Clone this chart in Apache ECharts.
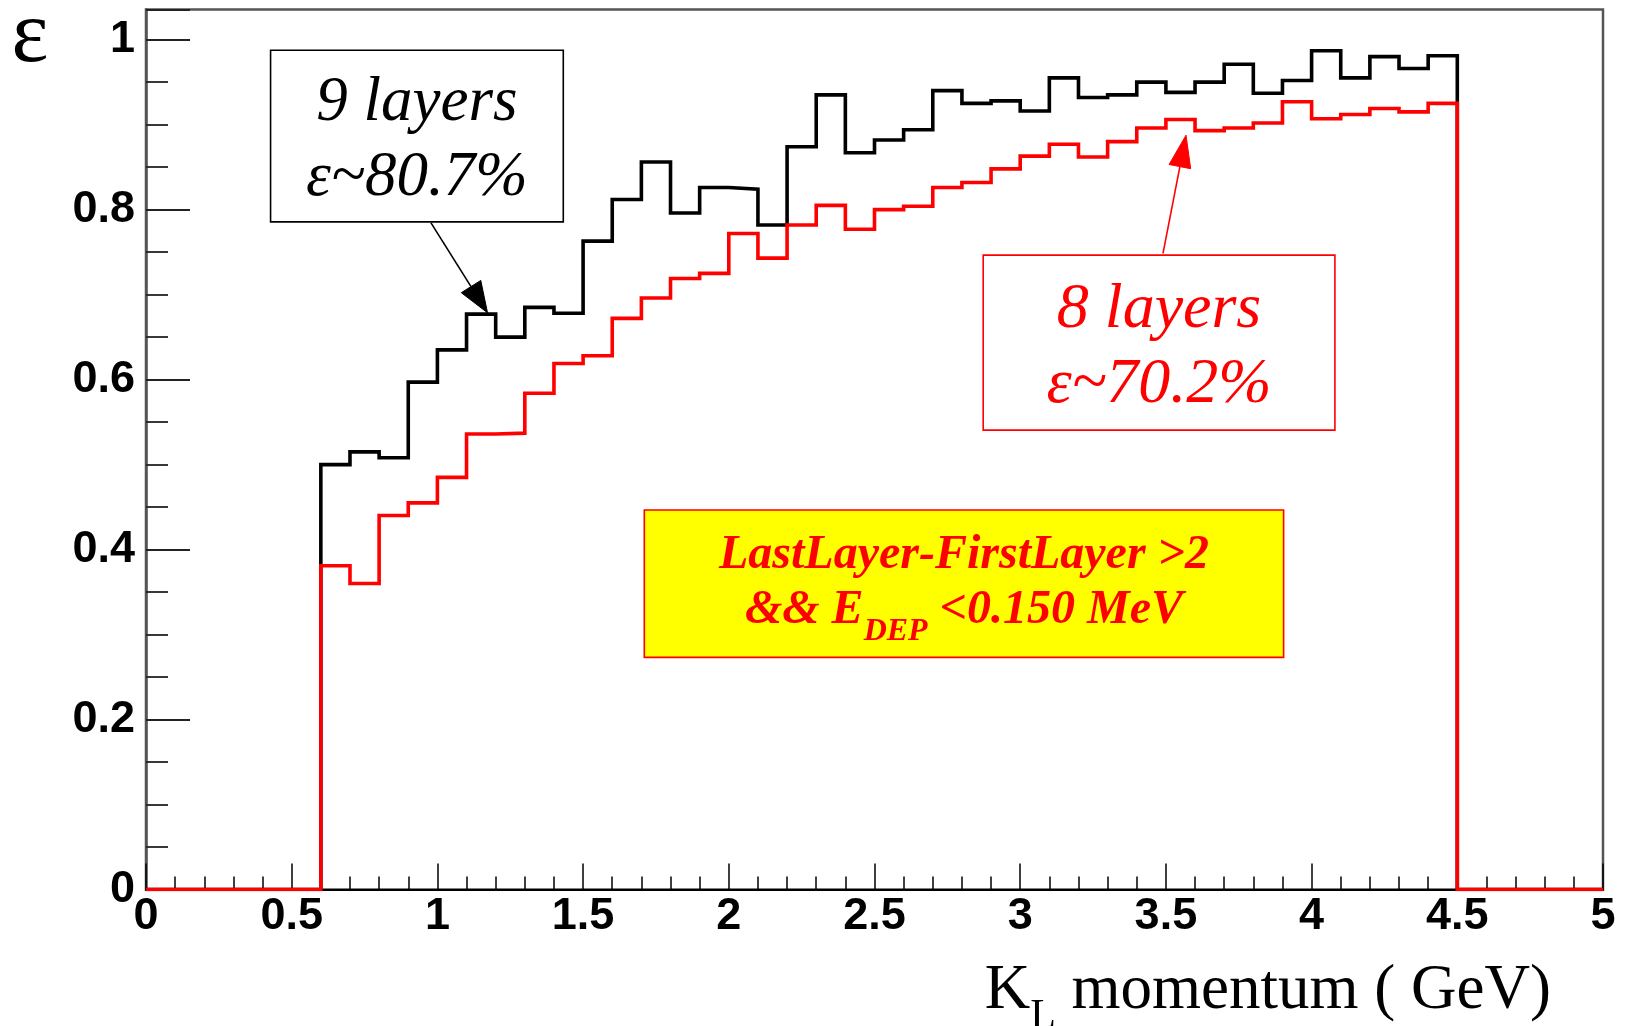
<!DOCTYPE html>
<html>
<head>
<meta charset="utf-8">
<script src="https://cdn.jsdelivr.net/npm/echarts@6/dist/echarts.min.js"></script>
<style>
html,body{margin:0;padding:0;background:#ffffff;}
#chart{width:1625px;height:1026px;}
</style>
</head>
<body>
<div id="chart"></div>
<script>
// ---- data ----
const BIN_EDGES = [0, 0.1, 0.2, 0.3, 0.4, 0.5, 0.6, 0.7, 0.8, 0.9, 1.0, 1.1, 1.2, 1.3, 1.4, 1.5, 1.6, 1.7, 1.8, 1.9,
  2.0, 2.1, 2.2, 2.3, 2.4, 2.5, 2.6, 2.7, 2.8, 2.9, 3.0, 3.1, 3.2, 3.3, 3.4, 3.5, 3.6, 3.7, 3.8, 3.9,
  4.0, 4.1, 4.2, 4.3, 4.4, 4.5, 4.6, 4.7, 4.8, 4.9, 5.0];

const NINE_LAYERS = [0, 0, 0, 0, 0, 0,
  0.500, 0.515, 0.508, 0.597, 0.635, 0.677, 0.650, 0.685, 0.678, 0.763,
  0.812, 0.856, 0.796, 0.826, 0.824, 0.782, 0.874, 0.935, 0.867, 0.882,
  0.894, 0.940, 0.925, 0.928, 0.916, 0.955, 0.932, 0.935, 0.950, 0.938,
  0.950, 0.971, 0.937, 0.952, 0.987, 0.955, 0.980, 0.966, 0.981,
  0, 0, 0, 0, 0];

const EIGHT_LAYERS = [0, 0, 0, 0, 0, 0,
  0.381, 0.360, 0.440, 0.455, 0.485, 0.536, 0.537, 0.584, 0.619, 0.628,
  0.672, 0.696, 0.719, 0.725, 0.772, 0.743, 0.782, 0.805, 0.777, 0.800,
  0.804, 0.826, 0.832, 0.848, 0.863, 0.877, 0.862, 0.880, 0.896, 0.906,
  0.893, 0.896, 0.902, 0.927, 0.907, 0.912, 0.919, 0.915, 0.925,
  0, 0, 0, 0, 0];

const X_RANGE = [0, 5];
const Y_RANGE = [0, 1.0355];

const BOX_NINE_TEXT = ['9 layers', 'ε~80.7%'];
const BOX_EIGHT_TEXT = ['8 layers', 'ε~70.2%'];
const CUT_LINE1 = 'LastLayer-FirstLayer >2';
const CUT_LINE2 = ['&& E', 'DEP', ' <0.150 MeV'];
const X_TITLE = ['K', 'L', ' momentum ( GeV)'];
const Y_TITLE = 'ε';

// ---- build histogram outlines ----
function steps(vals) {
  const pts = [];
  for (let i = 0; i < vals.length; i++) {
    pts.push([BIN_EDGES[i], vals[i]]);
    pts.push([BIN_EDGES[i + 1], vals[i]]);
  }
  return pts;
}

const chart = echarts.init(document.getElementById('chart'), null, {renderer: 'canvas'});

const labelFont = {fontFamily: '"Liberation Sans", Arial, sans-serif', fontWeight: 'bold', fontSize: 45, color: '#000'};

const option = {
  animation: false,
  backgroundColor: '#ffffff',
  grid: {left: 146, right: 22, top: 9.5, bottom: 136.5, show: true, borderColor: '#555', borderWidth: 2.5, backgroundColor: 'transparent'},
  xAxis: {
    type: 'value', min: X_RANGE[0], max: X_RANGE[1], interval: 0.5,
    axisLine: {show: true, onZero: false, lineStyle: {color: '#000', width: 2}},
    axisTick: {show: true, inside: true, length: 26, lineStyle: {color: '#000', width: 1.5}},
    minorTick: {show: true, splitNumber: 5, length: 13, lineStyle: {color: '#000', width: 1.5}},
    splitLine: {show: false},
    axisLabel: Object.assign({margin: 5, showMinLabel: true, showMaxLabel: true}, labelFont)
  },
  yAxis: {
    type: 'value', min: Y_RANGE[0], max: Y_RANGE[1], interval: 0.2,
    axisLine: {show: true, onZero: false, lineStyle: {color: '#555', width: 2.5}},
    axisTick: {show: true, inside: true, length: 44, lineStyle: {color: '#222', width: 1.8}},
    minorTick: {show: true, splitNumber: 4, length: 22, lineStyle: {color: '#222', width: 1.8}},
    splitLine: {show: false},
    axisLabel: Object.assign({margin: 11, showMaxLabel: false}, labelFont)
  },
  series: [
    {
      name: '9 layers', type: 'line', data: steps(NINE_LAYERS), showSymbol: false, symbol: 'none',
      lineStyle: {color: '#000000', width: 3.6, join: 'miter', cap: 'butt'}, z: 3, silent: true
    },
    {
      name: '8 layers', type: 'line', data: steps(EIGHT_LAYERS), showSymbol: false, symbol: 'none',
      lineStyle: {color: '#ff0000', width: 3.6, join: 'miter', cap: 'butt'}, z: 4, silent: true
    }
  ]
};
chart.setOption(option);

// ---- annotations (placed in data coordinates) ----
const px = p => chart.convertToPixel({xAxisIndex: 0, yAxisIndex: 0}, p);
const mctx = document.createElement('canvas').getContext('2d');
function tw(text, size, style, weight, family) {
  mctx.font = `${style} ${weight} ${size}px ${family}`;
  return mctx.measureText(text).width;
}
const SERIF = '"Liberation Serif", "Times New Roman", serif';

const BOX_NINE = {x0: 0.4275, x1: 1.432, y0: 0.9876, y1: 0.7856};
const BOX_EIGHT = {x0: 2.873, x1: 4.080, y0: 0.7465, y1: 0.5406};
const BOX_CUT = {x0: 1.710, x1: 3.904, y0: 0.4465, y1: 0.2732};
const ARROW_NINE = {from: [0.978, 0.7845], to: [1.172, 0.6786]};
const ARROW_EIGHT = {from: [3.490, 0.7485], to: [3.569, 0.8876]};

const g = [];
function rectOf(b) {
  const a = px([b.x0, b.y0]), c = px([b.x1, b.y1]);
  return {x: a[0], y: a[1], w: c[0] - a[0], h: c[1] - a[1]};
}
function addBox(b, stroke, fill, lw) {
  const r = rectOf(b);
  g.push({type: 'rect', z: 20, silent: true, shape: {x: r.x, y: r.y, width: r.w, height: r.h},
    style: {fill: fill, stroke: stroke, lineWidth: lw}});
  return r;
}
function addText(text, x, y, size, color, style, weight, align) {
  g.push({type: 'text', z: 21, silent: true, style: {text: text, x: x, y: y, fill: color,
    fontSize: size, fontFamily: SERIF, fontStyle: style, fontWeight: weight,
    align: align || 'center', verticalAlign: 'middle'}});
}
function addSegments(segs, cx, cy, color, style, weight, anchor) {
  let total = 0;
  segs.forEach(s => { s.w = tw(s.t, s.size, style, weight, SERIF); total += s.w; });
  let x = anchor === 'right' ? cx - total : cx - total / 2;
  segs.forEach(s => {
    addText(s.t, x, cy + (s.dy || 0), s.size, color, style, weight, 'left');
    x += s.w;
  });
}
function addArrow(a, color, headLen, headW, lw) {
  const s = px(a.from), t = px(a.to);
  const dx = t[0] - s[0], dy = t[1] - s[1];
  const L = Math.hypot(dx, dy), ux = dx / L, uy = dy / L;
  const bx = t[0] - ux * headLen, by = t[1] - uy * headLen;
  g.push({type: 'line', z: 20, silent: true, shape: {x1: s[0], y1: s[1], x2: bx, y2: by},
    style: {stroke: color, lineWidth: lw}});
  g.push({type: 'polygon', z: 20, silent: true,
    shape: {points: [[t[0], t[1]], [bx - uy * headW / 2, by + ux * headW / 2], [bx + uy * headW / 2, by - ux * headW / 2]]},
    style: {fill: color, stroke: color, lineWidth: 1}});
}

// 9 layers box
let r = addBox(BOX_NINE, '#000', '#ffffff', 1.6);
addText(BOX_NINE_TEXT[0], r.x + r.w / 2, r.y + 0.31 * r.h, 63, '#000', 'italic', 'normal');
addText(BOX_NINE_TEXT[1], r.x + r.w / 2, r.y + 0.745 * r.h, 63, '#000', 'italic', 'normal');
addArrow(ARROW_NINE, '#000', 31, 23, 1.6);

// 8 layers box
r = addBox(BOX_EIGHT, '#ff0000', '#ffffff', 1.6);
addText(BOX_EIGHT_TEXT[0], r.x + r.w / 2, r.y + 0.315 * r.h, 64, '#ff0000', 'italic', 'normal');
addText(BOX_EIGHT_TEXT[1], r.x + r.w / 2, r.y + 0.745 * r.h, 64, '#ff0000', 'italic', 'normal');
addArrow(ARROW_EIGHT, '#ff0000', 32, 22, 1.6);

// cut box
r = addBox(BOX_CUT, '#ff0000', '#ffff00', 1.6);
addText(CUT_LINE1, r.x + r.w / 2, r.y + 0.31 * r.h, 48, '#ff0000', 'italic', 'bold');
addSegments([{t: CUT_LINE2[0], size: 48}, {t: CUT_LINE2[1], size: 32, dy: 21}, {t: CUT_LINE2[2], size: 48}],
  r.x + r.w / 2, r.y + 0.685 * r.h, '#ff0000', 'italic', 'bold');

// axis titles
addSegments([{t: X_TITLE[0], size: 63}, {t: X_TITLE[1], size: 42, dy: 26}, {t: X_TITLE[2], size: 63}],
  1551, 991, '#000', 'normal', 'normal', 'right');
addText(Y_TITLE, 30, 38, 88, '#000', 'normal', 'normal');

chart.setOption({graphic: {elements: g}});
</script>
</body>
</html>
